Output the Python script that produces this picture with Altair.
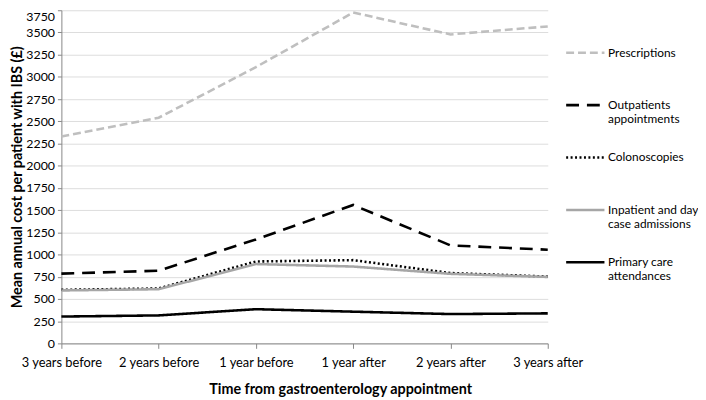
import altair as alt
import pandas as pd

periods = ["3 years before", "2 years before", "1 year before",
           "1 year after", "2 years after", "3 years after"]
series_names = ["Prescriptions", "Outpatients appointments", "Colonoscopies",
                "Inpatient and day case admissions", "Primary care attendances"]
prescriptions = [2330, 2540, 3110, 3725, 3478, 3568]
outpatients = [785, 818, 1170, 1558, 1103, 1055]
colonoscopies = [603, 618, 922, 937, 792, 752]
inpatient = [596, 610, 893, 865, 783, 748]
primary_care = [302, 315, 385, 357, 330, 338]

values = [prescriptions, outpatients, colonoscopies, inpatient, primary_care]
rows = []
for name, vals in zip(series_names, values):
    for p, v in zip(periods, vals):
        rows.append({"period": p, "series": name, "cost": v})
df = pd.DataFrame(rows)

colors = ["#BFBFBF", "#000000", "#000000", "#A6A6A6", "#000000"]
dashes = [[8, 4], [13, 8], [2, 2.5], [1, 0], [1, 0]]

font = "Lato"

label_expr = (
    "datum.label == 'Outpatients appointments' ? ['Outpatients', 'appointments'] : "
    "datum.label == 'Inpatient and day case admissions' ? ['Inpatient and day', 'case admissions'] : "
    "datum.label == 'Primary care attendances' ? ['Primary care', 'attendances'] : "
    "[datum.label, ' ']"
)

chart = alt.Chart(df).mark_line(strokeWidth=2.6).encode(
    x=alt.X("period:N", sort=periods,
            scale=alt.Scale(type="point", padding=0),
            axis=alt.Axis(title="Time from gastroenterology appointment",
                          labelAngle=0, grid=False, ticks=True, tickSize=5,
                          labelPadding=8, titleX=282, titleY=47,
                          titleBaseline="middle", titleAlign="center")),
    y=alt.Y("cost:Q", scale=alt.Scale(domain=[0, 3750], nice=False),
            axis=alt.Axis(title="Mean annual cost per patient with IBS (£)",
                          values=list(range(0, 3751, 250)), format="d",
                          labelFontSize=12.5,
                          labelBaseline={"condition": {"test": "datum.value == 3750", "value": "top"},
                                         "value": "middle"},
                          tickSize=4, labelPadding=3, titlePadding=1)),
    color=alt.Color("series:N", sort=series_names,
                    scale=alt.Scale(domain=series_names, range=colors),
                    legend=alt.Legend(title=None, orient="none", legendX=509, legendY=22,
                                      symbolType="stroke", symbolSize=1500,
                                      symbolStrokeWidth=2.6,
                                      labelExpr=label_expr,
                                      rowPadding=12, labelOffset=2)),
    strokeDash=alt.StrokeDash("series:N", sort=series_names,
                              scale=alt.Scale(domain=series_names, range=dashes),
                              legend=None),
).properties(
    width=492, height=337,
    autosize=alt.AutoSizeParams(type="none"),
    padding={"left": 54, "top": 0, "right": 152, "bottom": 56},
).configure_view(stroke=None).configure_axis(
    labelFont=font, titleFont=font, labelFontSize=13, titleFontSize=14.5,
    titleFontWeight="bold", labelColor="#000000", titleColor="#000000",
    domainColor="#888888", tickColor="#888888", gridColor="#DDDDDD",
).configure_legend(labelFont=font, labelFontSize=12, labelColor="#000000")

chart.save("out.html", embed_options={"renderer": "svg", "actions": False})
